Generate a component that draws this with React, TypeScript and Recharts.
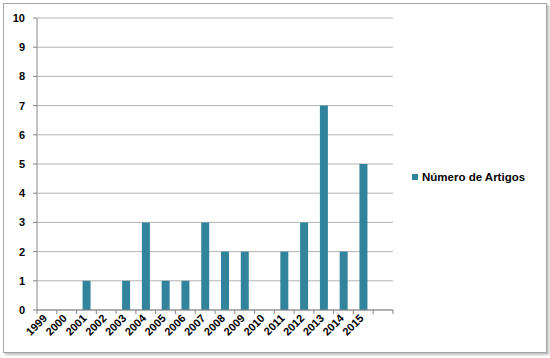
import React from 'react';
import { BarChart, Bar, XAxis, YAxis, CartesianGrid, Legend } from 'recharts';

const years = ['1999', '2000', '2001', '2002', '2003', '2004', '2005', '2006', '2007', '2008', '2009', '2010', '2011', '2012', '2013', '2014', '2015', ''];
const articles = [0, 0, 1, 0, 1, 3, 1, 1, 3, 2, 2, 0, 2, 3, 7, 2, 5, null];
const yTicks = [0, 1, 2, 3, 4, 5, 6, 7, 8, 9, 10];

const data = years.map((y, i) => ({ year: y, artigos: articles[i] }));

const FONT = '"Liberation Sans", Arial, sans-serif';
const BAR = '#31849B';
const HALF_BAND = (393 - 37) / years.length / 2;

// ticks sit on the category boundaries, labels under the centre
const YearTick = (props: any) => {
  const { x, y, payload, index } = props;
  return (
    <g>
      <line x1={x - HALF_BAND} y1={y} x2={x - HALF_BAND} y2={y + 4} stroke="#868686" />
      {index === years.length - 1 && (
        <line x1={x + HALF_BAND} y1={y} x2={x + HALF_BAND} y2={y + 4} stroke="#868686" />
      )}
      <text
        x={x + 1}
        y={y + 9}
        textAnchor="end"
        fontSize={11}
        fontWeight="bold"
        fontFamily={FONT}
        fill="#000"
        transform={`rotate(-45 ${x + 1} ${y + 9})`}
      >
        {payload.value}
      </text>
    </g>
  );
};

const LegendBox = () => (
  <div style={{ display: 'flex', alignItems: 'center', fontFamily: FONT, fontSize: 11.5, fontWeight: 'bold', whiteSpace: 'nowrap' }}>
    <span style={{ width: 6, height: 6, background: BAR, marginRight: 4, display: 'inline-block' }} />
    <span>Número de Artigos</span>
  </div>
);

export default function App() {
  return (
    <div style={{ position: 'absolute', left: 0, top: 0, width: 550, height: 358, background: '#fff' }}>
      <div
        style={{
          position: 'absolute',
          left: 3,
          top: 3,
          width: 542,
          height: 348,
          border: '1px solid #a6a6a6',
          boxShadow: '2px 2px 2px rgba(0,0,0,0.25)',
        }}
      />
      <div style={{ position: 'absolute', left: 0, top: 0 }}>
        <BarChart width={550} height={358} data={data} margin={{ top: 18, right: 157, bottom: 0, left: 0 }}>
          <CartesianGrid vertical={false} stroke="#b3b3b3" />
          <XAxis
            dataKey="year"
            height={48}
            interval={0}
            tickLine={false}
            tickSize={0}
            tickMargin={0}
            stroke="#868686"
            tick={<YearTick />}
          />
          <YAxis
            width={37}
            domain={[0, 10]}
            ticks={yTicks}
            interval={0}
            tickSize={4}
            tickMargin={8}
            stroke="#868686"
            tick={{ fill: '#000', fontSize: 11, fontWeight: 'bold', fontFamily: FONT }}
          />
          <Bar dataKey="artigos" fill={BAR} barSize={8} isAnimationActive={false} />
          <Legend
            layout="horizontal"
            verticalAlign="middle"
            align="center"
            content={<LegendBox />}
            wrapperStyle={{ left: 412, top: 171, width: 135 }}
          />
        </BarChart>
      </div>
    </div>
  );
}
